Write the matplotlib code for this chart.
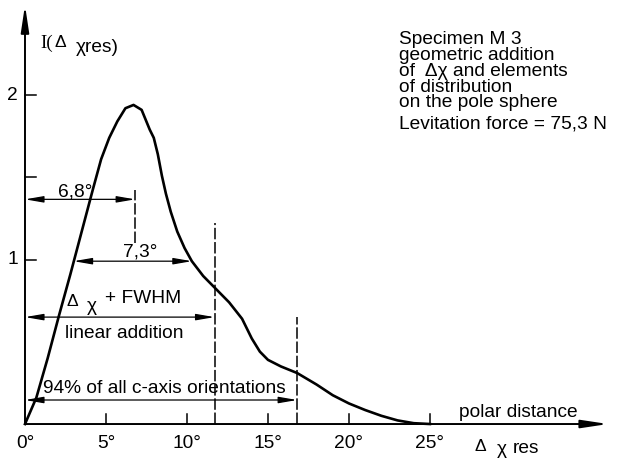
import matplotlib.pyplot as plt

plt.rcParams['font.family'] = ['Liberation Sans', 'DejaVu Sans']

# resulting polar distance distribution, specimen M 3
polar_deg = [0, 0.7, 1.4, 2.1, 2.8, 3.5, 4.2, 4.7, 5.2, 5.7, 6.2, 6.7, 7.2, 7.7,
             7.95, 8.2, 8.45, 8.7, 9.0, 9.4, 9.85, 10.3, 11.0, 11.8, 12.6, 13.4,
             14.0, 14.5, 15.0, 15.8, 16.8, 18.0, 19.0, 20.0, 21.0, 22.0, 23.0,
             24.0, 25.0]
intensity = [0, 0.16, 0.4, 0.66, 0.91, 1.17, 1.43, 1.61, 1.74, 1.84, 1.92, 1.94,
             1.91, 1.79, 1.74, 1.64, 1.51, 1.40, 1.29, 1.17, 1.07, 0.99, 0.9, 0.82,
             0.74, 0.64, 0.52, 0.44, 0.39, 0.35, 0.31, 0.24, 0.175, 0.125, 0.085,
             0.05, 0.022, 0.005, 0.0]

x_tick_pos = [5, 10, 15, 20, 25]
x_label_pos = [0, 5, 10, 15, 20, 25]
x_labels = ["0°", "5°", "10°", "15°", "20°", "25°"]
y_tick_pos = [1, 1.5, 2]
y_label_pos = [1, 2]
y_labels = ["1", "2"]

# dimension arrows: (start, end, level)
peak_width = (0, 6.8, 1.366)
fwhm = (3.0, 10.3, 0.99)
linear_sum = (0, 11.7, 0.65)
c_axis_94 = (0, 16.8, 0.146)

# dashed limit markers: (x, top, bottom)
markers = [(6.8, 1.42, 1.10), (11.7, 1.22, 0.0), (16.8, 0.65, 0.0)]

info_lines = ["Specimen M 3", "geometric addition", "of  Δχ and elements",
              "of distribution", "on the pole sphere"]
force_line = "Levitation force = 75,3 N"

fs = 13.8
fs_delta = 12.5
dpi = 100
fig = plt.figure(figsize=(6.19, 4.63), dpi=dpi)
ax = fig.add_axes([0, 0, 1, 1])
ax.set_xlim(-1.543, 36.67)
ax.set_ylim(-0.237, 2.578)
ax.axis('off')

# axes with arrow heads
ax.annotate("", xy=(36.0, 0), xytext=(0, 0),
            arrowprops=dict(arrowstyle="-|>,head_length=16,head_width=2.4",
                            mutation_scale=1, lw=1.4, color="black",
                            shrinkA=0, shrinkB=0))
ax.annotate("", xy=(0, 2.547), xytext=(0, 0),
            arrowprops=dict(arrowstyle="-|>,head_length=16,head_width=2.4",
                            mutation_scale=1, lw=1.4, color="black",
                            shrinkA=0, shrinkB=0))

for xt in x_tick_pos:
    ax.plot([xt, xt], [0, 0.062], color="black", lw=1.1)
for yt in y_tick_pos:
    ax.plot([0, 0.65], [yt, yt], color="black", lw=1.1)

for xl, lab in zip(x_label_pos, x_labels):
    ax.text(xl, -0.148, lab, fontsize=fs, ha="center", va="baseline")
for yl, lab in zip(y_label_pos, y_labels):
    ax.text(-0.43, yl, lab, fontsize=fs, ha="right", va="center")

# curve
ax.plot(polar_deg, intensity, color="black", lw=1.9, solid_joinstyle="round",
        zorder=5)

# dashed limits
for mx, top, bot in markers:
    ax.plot([mx, mx], [bot, top], color="black", lw=1.1,
            linestyle=(0, (7.5, 1.8)))


def dim_arrow(span):
    x0, x1, y = span
    ax.annotate("", xy=(x1, y), xytext=(x0, y),
                arrowprops=dict(arrowstyle="<|-|>,head_length=11,head_width=1.9",
                                mutation_scale=1, lw=0.9, color="black",
                                shrinkA=0, shrinkB=0))


for span in (peak_width, fwhm, linear_sum, c_axis_94):
    dim_arrow(span)

ax.text(3.1, peak_width[2] + 0.02, "6,8°", fontsize=fs, ha="center", va="baseline")
ax.text(7.1, fwhm[2] + 0.03, "7,3°", fontsize=fs, ha="center", va="baseline")

# Δχ + FWHM label
ax.text(2.55, 0.72, "Δ", fontsize=fs_delta, va="baseline")
ax.text(3.8, 0.69, "χ", fontsize=fs, va="baseline")
ax.text(4.94, 0.736, "+ FWHM", fontsize=fs, va="baseline")
ax.text(6.1, 0.525, "linear addition", fontsize=fs, ha="center", va="baseline")
ax.text(1.1, 0.19, "94% of all c-axis orientations", fontsize=fs, va="baseline")

# axis titles
ax.text(26.8, 0.04, "polar distance", fontsize=fs, va="baseline")
ax.text(27.75, -0.165, "Δ", fontsize=fs_delta, va="baseline")
ax.text(29.14, -0.18, "χ", fontsize=fs, va="baseline")
ax.text(30.12, -0.176, "res", fontsize=fs, va="baseline")

ax.text(0.93, 2.286, "I(", fontsize=fs, va="baseline", family="Liberation Serif")
ax.text(1.8, 2.29, "Δ", fontsize=fs_delta, va="baseline")
ax.text(3.15, 2.262, "χres)", fontsize=fs, va="baseline")

# specimen info block
info_x = 23.09
ax.text(info_x, (424 - 31) / 164.5, "\n".join(info_lines), fontsize=fs,
        va="top", linespacing=0.91)
ax.text(info_x, (424 - 128) / 164.5, force_line, fontsize=fs, va="baseline")

fig.savefig("out.png", dpi=dpi)
